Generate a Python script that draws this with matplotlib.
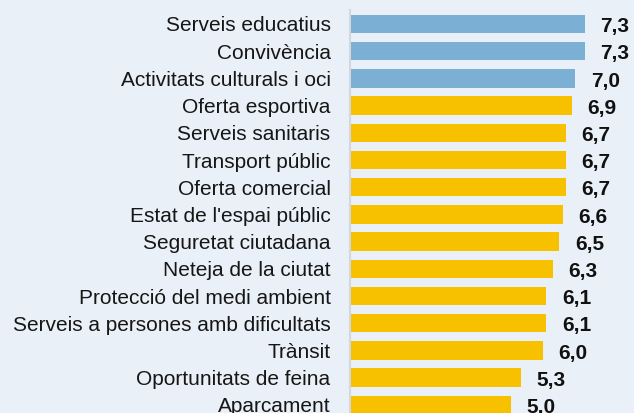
import matplotlib
matplotlib.use("Agg")
import matplotlib.pyplot as plt

categories = [
    "Serveis educatius", "Convivència", "Activitats culturals i oci",
    "Oferta esportiva", "Serveis sanitaris", "Transport públic",
    "Oferta comercial", "Estat de l'espai públic", "Seguretat ciutadana",
    "Neteja de la ciutat", "Protecció del medi ambient",
    "Serveis a persones amb dificultats", "Trànsit",
    "Oportunitats de feina", "Aparcament",
]
scores = [7.3, 7.3, 7.0, 6.9, 6.7, 6.7, 6.7, 6.6, 6.5, 6.3, 6.1, 6.1, 6.0, 5.3, 5.0]
highlight = [True, True, True] + [False] * 12

bg = "#e9f0f7"
blue = "#7bafd4"
yellow = "#f7c100"

plt.rcParams["font.family"] = ["Liberation Sans", "DejaVu Sans"]

fig = plt.figure(figsize=(6.34, 4.13), dpi=100, facecolor=bg)
ax = fig.add_axes([350 / 634, 0, 284 / 634, 1], facecolor=bg)

pos = list(range(len(categories)))
colors = [blue if h else yellow for h in highlight]
ax.barh(pos, scores, height=0.68, color=colors, zorder=2)

# value labels sit a touch below the bar centre, as in the original
for y, v in zip(pos, scores):
    ax.text(v + 0.48, y + 0.1, f"{v:.1f}".replace(".", ","), va="center", ha="left",
            fontsize=15, fontweight="bold", color="#111111")

ax.set_xlim(0, 8.82)
ax.set_ylim(14.30, -0.882)
ax.set_yticks(pos)
ax.set_yticklabels(categories, fontsize=15, color="#161616")
ax.tick_params(axis="y", length=0, pad=14)
ax.set_xticks([])
for side in ["top", "right", "bottom"]:
    ax.spines[side].set_visible(False)
ax.spines["left"].set_color("#d4d8dc")
ax.spines["left"].set_linewidth(1.5)
ax.spines["left"].set_bounds(14.30, -0.52)

fig.savefig("out.png", dpi=100, facecolor=bg)
